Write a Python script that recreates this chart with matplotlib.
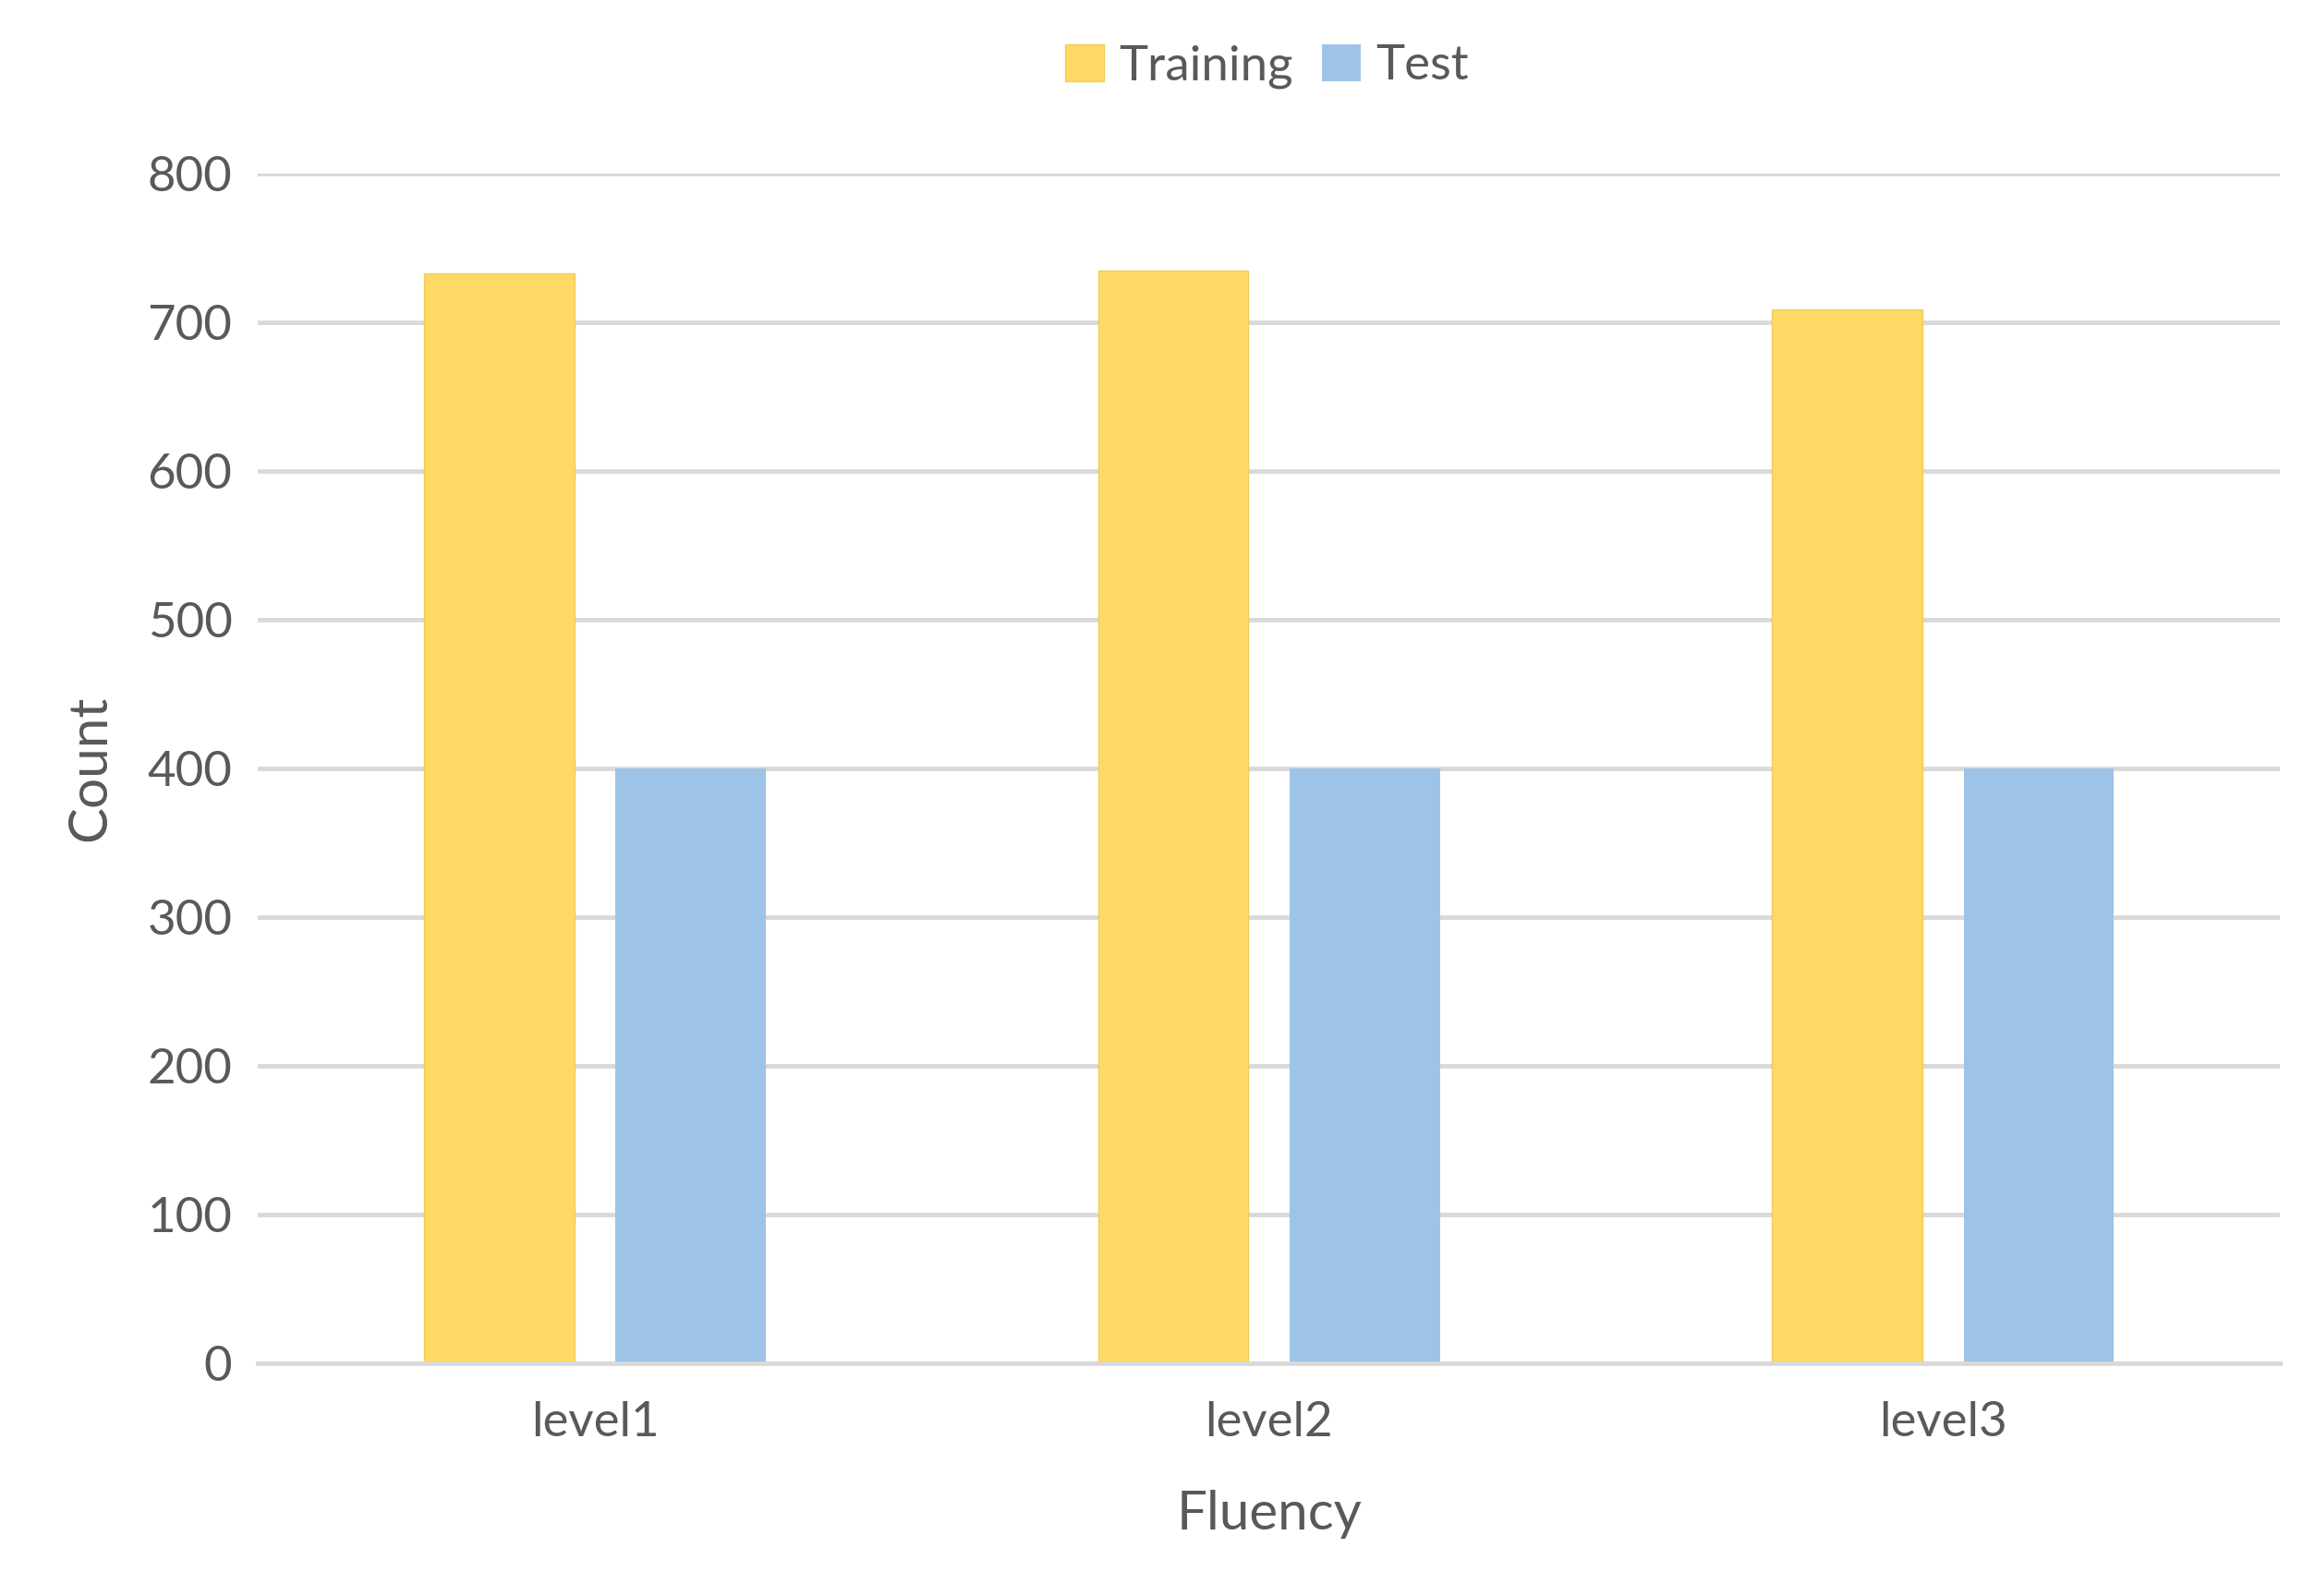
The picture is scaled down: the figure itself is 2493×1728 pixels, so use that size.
import matplotlib.pyplot as plt
import numpy as np

categories = ['level1', 'level2', 'level3']
training = [733, 735, 709]
test = [400, 400, 400]

plt.rcParams['font.family'] = ['Lato', 'DejaVu Sans']
txt = '#595959'
grid = '#d9d9d9'

fig = plt.figure(figsize=(24.93, 17.28), dpi=100)
ax = fig.add_axes([0.112, 0.146, 0.878, 0.745])

x = np.arange(len(categories))
w = 0.223
ax.bar(x - 0.142, training, w, color='#ffd966', edgecolor='#f2cc55', linewidth=1, label='Training', zorder=3)
ax.bar(x + 0.142, test, w, color='#9dc3e6', label='Test', zorder=3)

ax.set_xlim(-0.5, 2.5)
ax.set_ylim(0, 800)
ax.set_yticks(range(0, 801, 100))
ax.set_xticks(x)
ax.set_xticklabels(categories)
ax.yaxis.grid(True, color=grid, linewidth=3.5, zorder=0)
for s in ['top', 'right', 'left']:
    ax.spines[s].set_visible(False)
ax.spines['bottom'].set_color(grid)
ax.spines['bottom'].set_linewidth(3.5)
ax.spines['bottom'].set_zorder(4)
ax.tick_params(length=0, labelsize=38, colors=txt, pad=20)
ax.tick_params(axis='x', pad=30)
ax.set_xlabel('Fluency', fontsize=42, color=txt, labelpad=35)
ax.set_ylabel('Count', fontsize=42, color=txt, labelpad=25)

fig.legend(loc='upper center', bbox_to_anchor=(0.55, 1.0), ncol=2, frameon=False,
           fontsize=38, labelcolor=txt, handlelength=0.8, handleheight=0.8,
           handletextpad=0.3, columnspacing=0.6)

fig.savefig('out.png', dpi=100)
